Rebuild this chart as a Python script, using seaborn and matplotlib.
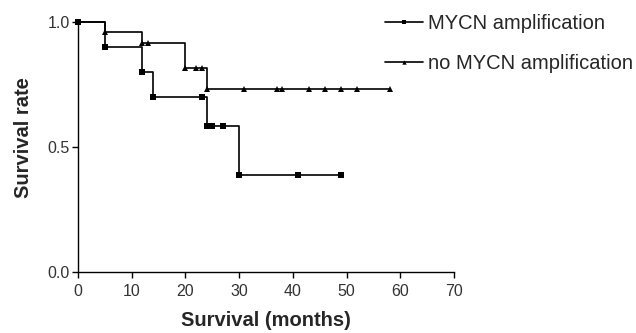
import pandas as pd
import matplotlib
matplotlib.use("Agg")
import matplotlib.pyplot as plt
import seaborn as sns

# Kaplan-Meier steps
mycn_months = [0, 5, 12, 14, 23, 24, 25, 27, 30, 41, 49]
mycn_surv = [1.0, 0.9, 0.8, 0.7, 0.7, 0.583, 0.583, 0.583, 0.389, 0.389, 0.389]

no_mycn_months = [0, 5, 12, 13, 20, 22, 23, 24, 31, 37, 38, 43, 46, 49, 52, 58]
no_mycn_surv = [1.0, 0.957, 0.913, 0.913, 0.816, 0.816, 0.816, 0.731,
                0.731, 0.731, 0.731, 0.731, 0.731, 0.731, 0.731, 0.731]

labels = ["MYCN amplification", "no MYCN amplification"]
x_ticks = [0, 10, 20, 30, 40, 50, 60, 70]
y_ticks = [0.0, 0.5, 1.0]

df_a = pd.DataFrame({"months": mycn_months, "surv": mycn_surv})
df_b = pd.DataFrame({"months": no_mycn_months, "surv": no_mycn_surv})

sns.set_style("ticks")
plt.rcParams["font.family"] = ["Liberation Sans", "DejaVu Sans"]

fig = plt.figure(figsize=(6.36, 3.33), dpi=100)
ax = fig.add_axes([0.1226, 0.1832, 0.5912, 0.7516])

sns.lineplot(data=df_a, x="months", y="surv", ax=ax, color="black",
             marker="s", markersize=4.5, markeredgewidth=0, linewidth=1.2,
             drawstyle="steps-post", sort=False, estimator=None,
             label=labels[0], clip_on=False, zorder=3)
sns.lineplot(data=df_b, x="months", y="surv", ax=ax, color="black",
             marker="^", markersize=4.5, markeredgewidth=0, linewidth=1.2,
             drawstyle="steps-post", sort=False, estimator=None,
             label=labels[1], clip_on=False, zorder=3)

ax.set_xlim(0, 70)
ax.set_ylim(0, 1.0)
ax.set_xticks(x_ticks)
ax.set_yticks(y_ticks)
ax.set_yticklabels([f"{v:.1f}" for v in y_ticks])
ax.tick_params(axis="both", direction="out", length=4, width=1,
               labelsize=11.5, pad=2, colors="black")
ax.tick_params(axis="x", pad=5)
ax.tick_params(axis="both", labelcolor="#333333")
for s in ["top", "right"]:
    ax.spines[s].set_visible(False)
for s in ["left", "bottom"]:
    ax.spines[s].set_linewidth(1)
    ax.spines[s].set_color("black")

ax.set_xlabel("Survival (months)", fontsize=14.5, fontweight="bold", labelpad=8)
ax.set_ylabel("Survival rate", fontsize=14.5, fontweight="bold")
ax.yaxis.set_label_coords(-0.12, 0.537)

ax.legend(loc="upper left", bbox_to_anchor=(0.8165, 1.03), frameon=False,
          fontsize=14.5, handlelength=1.9, handletextpad=0.25,
          labelspacing=1.05, markerscale=0.7, borderaxespad=0, borderpad=0)

fig.savefig("out.png", dpi=100, facecolor="white")
